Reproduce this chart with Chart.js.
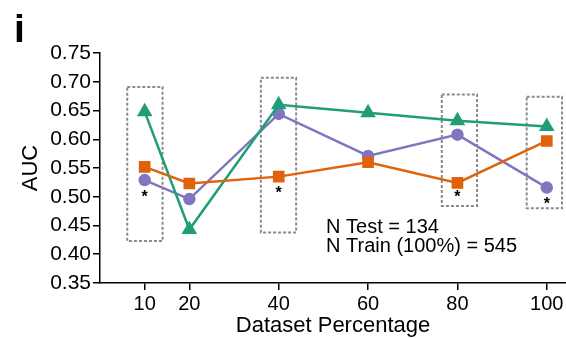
<!DOCTYPE html>
<html lang="en">
<head>
    <meta charset="UTF-8">
    <title>AUC vs Dataset Percentage</title>
    <script src="https://cdn.jsdelivr.net/npm/chart.js@4.4.0/dist/chart.umd.min.js"></script>
    <style>
        body { margin: 0; background: #fff; }
        #wrap { width: 566px; height: 339px; }
    </style>
</head>
<body>
<div id="wrap"><canvas id="chartAuc" width="566" height="339"></canvas></div>
<script>
    // values
    var pct = [10, 20, 40, 60, 80, 100];
    var xTicks = [10, 20, 40, 60, 80, 100];
    var aucOrange = [0.552, 0.523, 0.535, 0.560, 0.524, 0.597];
    var aucGreen = [0.648, 0.443, 0.660, 0.646, 0.632, 0.622];
    var aucPurple = [0.529, 0.496, 0.644, 0.571, 0.608, 0.516];

    // significance stars
    var starX = [10, 40, 80, 100];
    var starY = [0.506, 0.513, 0.506, 0.495];

    // dashed boxes [x0, x1, y0, y1] in data units
    var boxes = [
        [6.1, 14.0, 0.423, 0.691],
        [36.0, 43.9, 0.438, 0.707],
        [76.5, 84.4, 0.484, 0.678],
        [95.5, 103.4, 0.480, 0.674]
    ];

    var noteLines = ["N Test = 134", "N Train (100%) = 545"];
    var noteX = 50.6;
    var noteY = [0.4364, 0.4044];

    var FONT = "'Liberation Sans', Arial, Helvetica, sans-serif";

    function pts(ys) {
        return pct.map(function (x, i) { return {x: x, y: ys[i]}; });
    }

    var extras = {
        id: 'extras',
        beforeDatasetsDraw: function (chart) {
            var ctx = chart.ctx, xs = chart.scales.x, ys = chart.scales.y;
            ctx.save();
            ctx.strokeStyle = '#8a8a8a';
            ctx.lineWidth = 2;
            ctx.setLineDash([3, 2]);
            boxes.forEach(function (b) {
                var l = xs.getPixelForValue(b[0]), r = xs.getPixelForValue(b[1]);
                var t = ys.getPixelForValue(b[3]), btm = ys.getPixelForValue(b[2]);
                ctx.strokeRect(l, t, r - l, btm - t);
            });
            ctx.restore();
        },
        afterDraw: function (chart) {
            var ctx = chart.ctx, xs = chart.scales.x, ys = chart.scales.y;
            ctx.save();
            ctx.fillStyle = '#000';
            ctx.textAlign = 'center';
            ctx.textBaseline = 'alphabetic';
            ctx.font = "bold 16px " + FONT;
            starX.forEach(function (v, i) {
                ctx.fillText('*', xs.getPixelForValue(v), ys.getPixelForValue(starY[i]) + 9);
            });
            ctx.textAlign = 'left';
            ctx.font = "20px " + FONT;
            noteLines.forEach(function (s, i) {
                ctx.fillText(s, xs.getPixelForValue(noteX), ys.getPixelForValue(noteY[i]));
            });
            ctx.font = "bold 39px " + FONT;
            ctx.fillText('i', 14, 42);
            ctx.restore();
        }
    };

    new Chart(document.getElementById('chartAuc'), {
        type: 'line',
        data: {
            datasets: [
                {
                    label: 'orange',
                    data: pts(aucOrange),
                    borderColor: '#e0620d',
                    backgroundColor: '#e0620d',
                    borderWidth: 2.5,
                    pointStyle: 'rect',
                    pointRadius: 6.5
                },
                {
                    label: 'green',
                    data: pts(aucGreen),
                    borderColor: '#1f9e78',
                    backgroundColor: '#1f9e78',
                    borderWidth: 2.5,
                    pointStyle: 'triangle',
                    pointRadius: 6.5
                },
                {
                    label: 'purple',
                    data: pts(aucPurple),
                    borderColor: '#7f76bf',
                    backgroundColor: '#7f76bf',
                    borderWidth: 2.5,
                    pointStyle: 'circle',
                    pointRadius: 5
                }
            ]
        },
        options: {
            responsive: false,
            animation: false,
            layout: {autoPadding: false, padding: {top: 53, right: 0, left: 0, bottom: 0}},
            plugins: {legend: {display: false}, tooltip: {enabled: false}},
            scales: {
                x: {
                    type: 'linear',
                    min: 0,
                    max: 104.3,
                    afterBuildTicks: function (scale) {
                        scale.ticks = xTicks.map(function (v) { return {value: v}; });
                    },
                    afterFit: function (scale) { scale.height = 56; },
                    border: {display: true, color: '#000', width: 1.5},
                    grid: {display: true, drawOnChartArea: false, drawTicks: true, tickLength: 7, color: '#000', lineWidth: 1.5},
                    ticks: {color: '#000', font: {family: FONT, size: 20}, padding: 2, maxRotation: 0},
                    title: {display: true, text: 'Dataset Percentage', color: '#000', font: {family: FONT, size: 22}, padding: {top: 0, bottom: 0}}
                },
                y: {
                    min: 0.35,
                    max: 0.75,
                    afterFit: function (scale) { scale.width = 100; },
                    border: {display: true, color: '#000', width: 1.5},
                    grid: {display: true, drawOnChartArea: false, drawTicks: true, tickLength: 7, color: '#000', lineWidth: 1.5},
                    ticks: {
                        stepSize: 0.05,
                        color: '#000',
                        font: {family: FONT, size: 21},
                        padding: 2,
                        callback: function (v) { return v.toFixed(2); }
                    },
                    title: {display: true, text: 'AUC', color: '#000', font: {family: FONT, size: 22}, padding: {top: 18, bottom: 0}}
                }
            }
        },
        plugins: [extras]
    });
</script>
</body>
</html>
